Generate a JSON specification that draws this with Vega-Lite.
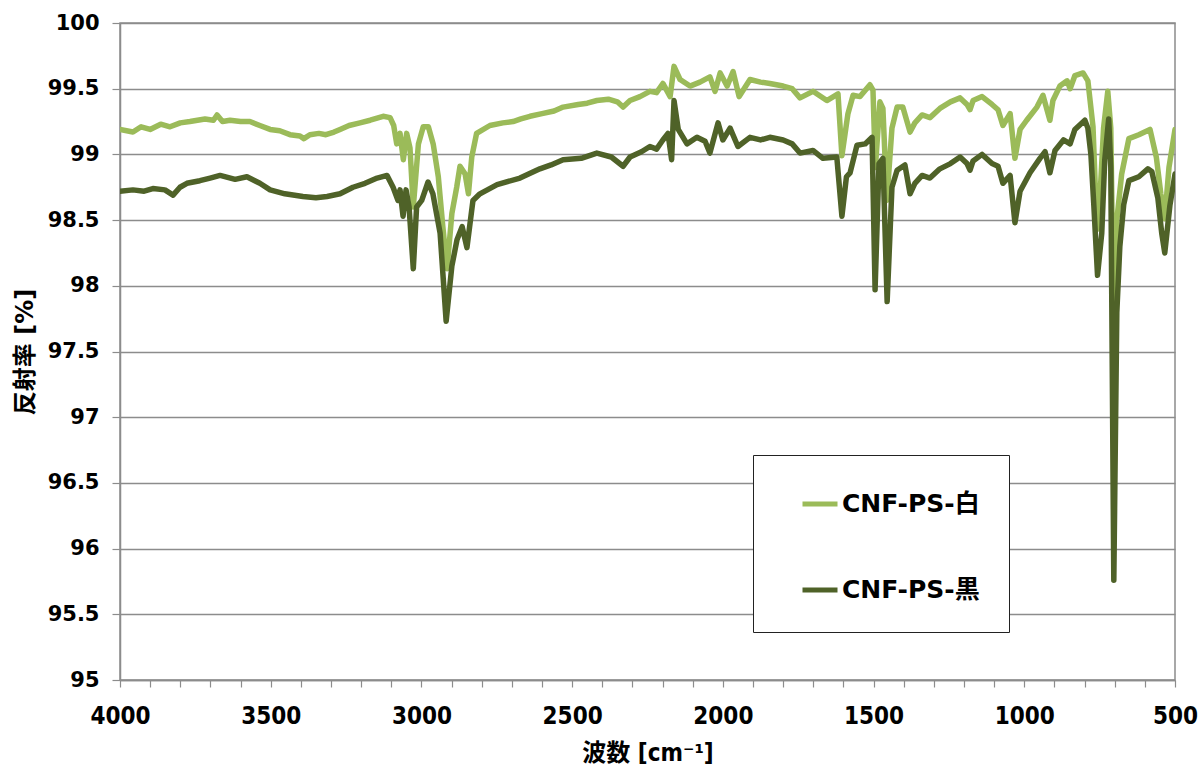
{
  "$schema": "https://vega.github.io/schema/vega-lite/v6.json",
  "width": 1055,
  "height": 657,
  "autosize": {"type": "none"},
  "padding": {"left": 120, "top": 23, "right": 25, "bottom": 92},
  "background": "white",
  "config": {
    "view": {"stroke": "#8c8c8c", "strokeWidth": 1.5},
    "font": "DejaVu Sans, Noto Sans CJK JP"
  },
  "data": {
    "values": [
      {"wn": 4000, "r": 99.19, "s": "CNF-PS-白"},
      {"wn": 3957, "r": 99.17, "s": "CNF-PS-白"},
      {"wn": 3930, "r": 99.21, "s": "CNF-PS-白"},
      {"wn": 3900, "r": 99.19, "s": "CNF-PS-白"},
      {"wn": 3865, "r": 99.23, "s": "CNF-PS-白"},
      {"wn": 3834, "r": 99.21, "s": "CNF-PS-白"},
      {"wn": 3800, "r": 99.24, "s": "CNF-PS-白"},
      {"wn": 3768, "r": 99.25, "s": "CNF-PS-白"},
      {"wn": 3718, "r": 99.27, "s": "CNF-PS-白"},
      {"wn": 3690, "r": 99.26, "s": "CNF-PS-白"},
      {"wn": 3678, "r": 99.30, "s": "CNF-PS-白"},
      {"wn": 3660, "r": 99.25, "s": "CNF-PS-白"},
      {"wn": 3635, "r": 99.26, "s": "CNF-PS-白"},
      {"wn": 3600, "r": 99.25, "s": "CNF-PS-白"},
      {"wn": 3569, "r": 99.25, "s": "CNF-PS-白"},
      {"wn": 3536, "r": 99.22, "s": "CNF-PS-白"},
      {"wn": 3502, "r": 99.19, "s": "CNF-PS-白"},
      {"wn": 3470, "r": 99.18, "s": "CNF-PS-白"},
      {"wn": 3436, "r": 99.15, "s": "CNF-PS-白"},
      {"wn": 3403, "r": 99.14, "s": "CNF-PS-白"},
      {"wn": 3390, "r": 99.12, "s": "CNF-PS-白"},
      {"wn": 3370, "r": 99.15, "s": "CNF-PS-白"},
      {"wn": 3340, "r": 99.16, "s": "CNF-PS-白"},
      {"wn": 3317, "r": 99.15, "s": "CNF-PS-白"},
      {"wn": 3290, "r": 99.17, "s": "CNF-PS-白"},
      {"wn": 3270, "r": 99.19, "s": "CNF-PS-白"},
      {"wn": 3240, "r": 99.22, "s": "CNF-PS-白"},
      {"wn": 3204, "r": 99.24, "s": "CNF-PS-白"},
      {"wn": 3170, "r": 99.26, "s": "CNF-PS-白"},
      {"wn": 3127, "r": 99.29, "s": "CNF-PS-白"},
      {"wn": 3104, "r": 99.28, "s": "CNF-PS-白"},
      {"wn": 3092, "r": 99.22, "s": "CNF-PS-白"},
      {"wn": 3082, "r": 99.08, "s": "CNF-PS-白"},
      {"wn": 3071, "r": 99.16, "s": "CNF-PS-白"},
      {"wn": 3060, "r": 98.96, "s": "CNF-PS-白"},
      {"wn": 3049, "r": 99.16, "s": "CNF-PS-白"},
      {"wn": 3038, "r": 99.05, "s": "CNF-PS-白"},
      {"wn": 3027, "r": 98.60, "s": "CNF-PS-白"},
      {"wn": 3010, "r": 99.08, "s": "CNF-PS-白"},
      {"wn": 2994, "r": 99.21, "s": "CNF-PS-白"},
      {"wn": 2977, "r": 99.21, "s": "CNF-PS-白"},
      {"wn": 2961, "r": 99.08, "s": "CNF-PS-白"},
      {"wn": 2944, "r": 98.83, "s": "CNF-PS-白"},
      {"wn": 2929, "r": 98.45, "s": "CNF-PS-白"},
      {"wn": 2915, "r": 98.13, "s": "CNF-PS-白"},
      {"wn": 2899, "r": 98.55, "s": "CNF-PS-白"},
      {"wn": 2883, "r": 98.75, "s": "CNF-PS-白"},
      {"wn": 2872, "r": 98.91, "s": "CNF-PS-白"},
      {"wn": 2855, "r": 98.85, "s": "CNF-PS-白"},
      {"wn": 2844, "r": 98.70, "s": "CNF-PS-白"},
      {"wn": 2833, "r": 98.98, "s": "CNF-PS-白"},
      {"wn": 2817, "r": 99.16, "s": "CNF-PS-白"},
      {"wn": 2773, "r": 99.22, "s": "CNF-PS-白"},
      {"wn": 2730, "r": 99.24, "s": "CNF-PS-白"},
      {"wn": 2696, "r": 99.25, "s": "CNF-PS-白"},
      {"wn": 2670, "r": 99.27, "s": "CNF-PS-白"},
      {"wn": 2640, "r": 99.29, "s": "CNF-PS-白"},
      {"wn": 2600, "r": 99.31, "s": "CNF-PS-白"},
      {"wn": 2560, "r": 99.33, "s": "CNF-PS-白"},
      {"wn": 2530, "r": 99.36, "s": "CNF-PS-白"},
      {"wn": 2480, "r": 99.38, "s": "CNF-PS-白"},
      {"wn": 2450, "r": 99.39, "s": "CNF-PS-白"},
      {"wn": 2418, "r": 99.41, "s": "CNF-PS-白"},
      {"wn": 2380, "r": 99.42, "s": "CNF-PS-白"},
      {"wn": 2350, "r": 99.40, "s": "CNF-PS-白"},
      {"wn": 2331, "r": 99.36, "s": "CNF-PS-白"},
      {"wn": 2308, "r": 99.41, "s": "CNF-PS-白"},
      {"wn": 2275, "r": 99.44, "s": "CNF-PS-白"},
      {"wn": 2242, "r": 99.48, "s": "CNF-PS-白"},
      {"wn": 2220, "r": 99.47, "s": "CNF-PS-白"},
      {"wn": 2199, "r": 99.54, "s": "CNF-PS-白"},
      {"wn": 2175, "r": 99.44, "s": "CNF-PS-白"},
      {"wn": 2162, "r": 99.67, "s": "CNF-PS-白"},
      {"wn": 2142, "r": 99.57, "s": "CNF-PS-白"},
      {"wn": 2109, "r": 99.52, "s": "CNF-PS-白"},
      {"wn": 2076, "r": 99.55, "s": "CNF-PS-白"},
      {"wn": 2043, "r": 99.59, "s": "CNF-PS-白"},
      {"wn": 2026, "r": 99.48, "s": "CNF-PS-白"},
      {"wn": 2009, "r": 99.62, "s": "CNF-PS-白"},
      {"wn": 1986, "r": 99.52, "s": "CNF-PS-白"},
      {"wn": 1966, "r": 99.63, "s": "CNF-PS-白"},
      {"wn": 1946, "r": 99.44, "s": "CNF-PS-白"},
      {"wn": 1910, "r": 99.57, "s": "CNF-PS-白"},
      {"wn": 1875, "r": 99.55, "s": "CNF-PS-白"},
      {"wn": 1844, "r": 99.54, "s": "CNF-PS-白"},
      {"wn": 1800, "r": 99.52, "s": "CNF-PS-白"},
      {"wn": 1770, "r": 99.50, "s": "CNF-PS-白"},
      {"wn": 1744, "r": 99.43, "s": "CNF-PS-白"},
      {"wn": 1701, "r": 99.48, "s": "CNF-PS-白"},
      {"wn": 1655, "r": 99.41, "s": "CNF-PS-白"},
      {"wn": 1618, "r": 99.46, "s": "CNF-PS-白"},
      {"wn": 1605, "r": 98.99, "s": "CNF-PS-白"},
      {"wn": 1585, "r": 99.31, "s": "CNF-PS-白"},
      {"wn": 1568, "r": 99.45, "s": "CNF-PS-白"},
      {"wn": 1545, "r": 99.44, "s": "CNF-PS-白"},
      {"wn": 1512, "r": 99.53, "s": "CNF-PS-白"},
      {"wn": 1502, "r": 99.49, "s": "CNF-PS-白"},
      {"wn": 1494, "r": 98.90, "s": "CNF-PS-白"},
      {"wn": 1479, "r": 99.40, "s": "CNF-PS-白"},
      {"wn": 1469, "r": 99.35, "s": "CNF-PS-白"},
      {"wn": 1456, "r": 98.65, "s": "CNF-PS-白"},
      {"wn": 1439, "r": 99.20, "s": "CNF-PS-白"},
      {"wn": 1422, "r": 99.36, "s": "CNF-PS-白"},
      {"wn": 1403, "r": 99.36, "s": "CNF-PS-白"},
      {"wn": 1379, "r": 99.17, "s": "CNF-PS-白"},
      {"wn": 1363, "r": 99.24, "s": "CNF-PS-白"},
      {"wn": 1339, "r": 99.30, "s": "CNF-PS-白"},
      {"wn": 1313, "r": 99.28, "s": "CNF-PS-白"},
      {"wn": 1280, "r": 99.35, "s": "CNF-PS-白"},
      {"wn": 1245, "r": 99.40, "s": "CNF-PS-白"},
      {"wn": 1213, "r": 99.43, "s": "CNF-PS-白"},
      {"wn": 1190, "r": 99.38, "s": "CNF-PS-白"},
      {"wn": 1180, "r": 99.34, "s": "CNF-PS-白"},
      {"wn": 1170, "r": 99.41, "s": "CNF-PS-白"},
      {"wn": 1140, "r": 99.44, "s": "CNF-PS-白"},
      {"wn": 1107, "r": 99.38, "s": "CNF-PS-白"},
      {"wn": 1087, "r": 99.34, "s": "CNF-PS-白"},
      {"wn": 1071, "r": 99.22, "s": "CNF-PS-白"},
      {"wn": 1047, "r": 99.31, "s": "CNF-PS-白"},
      {"wn": 1031, "r": 98.97, "s": "CNF-PS-白"},
      {"wn": 1014, "r": 99.19, "s": "CNF-PS-白"},
      {"wn": 992, "r": 99.26, "s": "CNF-PS-白"},
      {"wn": 958, "r": 99.36, "s": "CNF-PS-白"},
      {"wn": 938, "r": 99.45, "s": "CNF-PS-白"},
      {"wn": 915, "r": 99.26, "s": "CNF-PS-白"},
      {"wn": 905, "r": 99.41, "s": "CNF-PS-白"},
      {"wn": 882, "r": 99.52, "s": "CNF-PS-白"},
      {"wn": 858, "r": 99.56, "s": "CNF-PS-白"},
      {"wn": 848, "r": 99.50, "s": "CNF-PS-白"},
      {"wn": 832, "r": 99.60, "s": "CNF-PS-白"},
      {"wn": 805, "r": 99.62, "s": "CNF-PS-白"},
      {"wn": 789, "r": 99.56, "s": "CNF-PS-白"},
      {"wn": 772, "r": 99.21, "s": "CNF-PS-白"},
      {"wn": 762, "r": 98.60, "s": "CNF-PS-白"},
      {"wn": 757, "r": 98.43, "s": "CNF-PS-白"},
      {"wn": 746, "r": 98.80, "s": "CNF-PS-白"},
      {"wn": 737, "r": 99.20, "s": "CNF-PS-白"},
      {"wn": 723, "r": 99.48, "s": "CNF-PS-白"},
      {"wn": 713, "r": 99.20, "s": "CNF-PS-白"},
      {"wn": 703, "r": 97.60, "s": "CNF-PS-白"},
      {"wn": 693, "r": 98.50, "s": "CNF-PS-白"},
      {"wn": 677, "r": 98.85, "s": "CNF-PS-白"},
      {"wn": 653, "r": 99.12, "s": "CNF-PS-白"},
      {"wn": 620, "r": 99.15, "s": "CNF-PS-白"},
      {"wn": 583, "r": 99.19, "s": "CNF-PS-白"},
      {"wn": 562, "r": 98.98, "s": "CNF-PS-白"},
      {"wn": 547, "r": 98.70, "s": "CNF-PS-白"},
      {"wn": 534, "r": 98.51, "s": "CNF-PS-白"},
      {"wn": 520, "r": 98.90, "s": "CNF-PS-白"},
      {"wn": 500, "r": 99.19, "s": "CNF-PS-白"},

      {"wn": 4000, "r": 98.72, "s": "CNF-PS-黒"},
      {"wn": 3957, "r": 98.73, "s": "CNF-PS-黒"},
      {"wn": 3920, "r": 98.72, "s": "CNF-PS-黒"},
      {"wn": 3891, "r": 98.74, "s": "CNF-PS-黒"},
      {"wn": 3851, "r": 98.73, "s": "CNF-PS-黒"},
      {"wn": 3824, "r": 98.69, "s": "CNF-PS-黒"},
      {"wn": 3801, "r": 98.75, "s": "CNF-PS-黒"},
      {"wn": 3778, "r": 98.78, "s": "CNF-PS-黒"},
      {"wn": 3735, "r": 98.80, "s": "CNF-PS-黒"},
      {"wn": 3701, "r": 98.82, "s": "CNF-PS-黒"},
      {"wn": 3668, "r": 98.84, "s": "CNF-PS-黒"},
      {"wn": 3618, "r": 98.81, "s": "CNF-PS-黒"},
      {"wn": 3579, "r": 98.83, "s": "CNF-PS-黒"},
      {"wn": 3536, "r": 98.78, "s": "CNF-PS-黒"},
      {"wn": 3502, "r": 98.73, "s": "CNF-PS-黒"},
      {"wn": 3453, "r": 98.70, "s": "CNF-PS-黒"},
      {"wn": 3393, "r": 98.68, "s": "CNF-PS-黒"},
      {"wn": 3350, "r": 98.67, "s": "CNF-PS-黒"},
      {"wn": 3313, "r": 98.68, "s": "CNF-PS-黒"},
      {"wn": 3270, "r": 98.70, "s": "CNF-PS-黒"},
      {"wn": 3227, "r": 98.75, "s": "CNF-PS-黒"},
      {"wn": 3187, "r": 98.78, "s": "CNF-PS-黒"},
      {"wn": 3147, "r": 98.82, "s": "CNF-PS-黒"},
      {"wn": 3114, "r": 98.84, "s": "CNF-PS-黒"},
      {"wn": 3094, "r": 98.75, "s": "CNF-PS-黒"},
      {"wn": 3078, "r": 98.65, "s": "CNF-PS-黒"},
      {"wn": 3071, "r": 98.73, "s": "CNF-PS-黒"},
      {"wn": 3061, "r": 98.53, "s": "CNF-PS-黒"},
      {"wn": 3051, "r": 98.73, "s": "CNF-PS-黒"},
      {"wn": 3041, "r": 98.60, "s": "CNF-PS-黒"},
      {"wn": 3027, "r": 98.13, "s": "CNF-PS-黒"},
      {"wn": 3016, "r": 98.60, "s": "CNF-PS-黒"},
      {"wn": 2999, "r": 98.65, "s": "CNF-PS-黒"},
      {"wn": 2978, "r": 98.79, "s": "CNF-PS-黒"},
      {"wn": 2962, "r": 98.70, "s": "CNF-PS-黒"},
      {"wn": 2938, "r": 98.40, "s": "CNF-PS-黒"},
      {"wn": 2918, "r": 97.73, "s": "CNF-PS-黒"},
      {"wn": 2899, "r": 98.15, "s": "CNF-PS-黒"},
      {"wn": 2882, "r": 98.35, "s": "CNF-PS-黒"},
      {"wn": 2865, "r": 98.45, "s": "CNF-PS-黒"},
      {"wn": 2849, "r": 98.29, "s": "CNF-PS-黒"},
      {"wn": 2829, "r": 98.65, "s": "CNF-PS-黒"},
      {"wn": 2806, "r": 98.70, "s": "CNF-PS-黒"},
      {"wn": 2749, "r": 98.77, "s": "CNF-PS-黒"},
      {"wn": 2673, "r": 98.82, "s": "CNF-PS-黒"},
      {"wn": 2607, "r": 98.89, "s": "CNF-PS-黒"},
      {"wn": 2570, "r": 98.92, "s": "CNF-PS-黒"},
      {"wn": 2530, "r": 98.96, "s": "CNF-PS-黒"},
      {"wn": 2470, "r": 98.97, "s": "CNF-PS-黒"},
      {"wn": 2418, "r": 99.01, "s": "CNF-PS-黒"},
      {"wn": 2370, "r": 98.98, "s": "CNF-PS-黒"},
      {"wn": 2331, "r": 98.91, "s": "CNF-PS-黒"},
      {"wn": 2308, "r": 98.98, "s": "CNF-PS-黒"},
      {"wn": 2270, "r": 99.02, "s": "CNF-PS-黒"},
      {"wn": 2242, "r": 99.06, "s": "CNF-PS-黒"},
      {"wn": 2220, "r": 99.04, "s": "CNF-PS-黒"},
      {"wn": 2199, "r": 99.11, "s": "CNF-PS-黒"},
      {"wn": 2182, "r": 99.16, "s": "CNF-PS-黒"},
      {"wn": 2170, "r": 98.96, "s": "CNF-PS-黒"},
      {"wn": 2162, "r": 99.41, "s": "CNF-PS-黒"},
      {"wn": 2148, "r": 99.19, "s": "CNF-PS-黒"},
      {"wn": 2119, "r": 99.08, "s": "CNF-PS-黒"},
      {"wn": 2086, "r": 99.13, "s": "CNF-PS-黒"},
      {"wn": 2059, "r": 99.10, "s": "CNF-PS-黒"},
      {"wn": 2043, "r": 99.01, "s": "CNF-PS-黒"},
      {"wn": 2016, "r": 99.24, "s": "CNF-PS-黒"},
      {"wn": 2000, "r": 99.11, "s": "CNF-PS-黒"},
      {"wn": 1976, "r": 99.20, "s": "CNF-PS-黒"},
      {"wn": 1950, "r": 99.06, "s": "CNF-PS-黒"},
      {"wn": 1910, "r": 99.13, "s": "CNF-PS-黒"},
      {"wn": 1875, "r": 99.11, "s": "CNF-PS-黒"},
      {"wn": 1844, "r": 99.13, "s": "CNF-PS-黒"},
      {"wn": 1800, "r": 99.11, "s": "CNF-PS-黒"},
      {"wn": 1770, "r": 99.08, "s": "CNF-PS-黒"},
      {"wn": 1744, "r": 99.01, "s": "CNF-PS-黒"},
      {"wn": 1701, "r": 99.03, "s": "CNF-PS-黒"},
      {"wn": 1668, "r": 98.97, "s": "CNF-PS-黒"},
      {"wn": 1622, "r": 98.98, "s": "CNF-PS-黒"},
      {"wn": 1605, "r": 98.53, "s": "CNF-PS-黒"},
      {"wn": 1590, "r": 98.83, "s": "CNF-PS-黒"},
      {"wn": 1578, "r": 98.86, "s": "CNF-PS-黒"},
      {"wn": 1555, "r": 99.07, "s": "CNF-PS-黒"},
      {"wn": 1528, "r": 99.08, "s": "CNF-PS-黒"},
      {"wn": 1505, "r": 99.13, "s": "CNF-PS-黒"},
      {"wn": 1495, "r": 97.97, "s": "CNF-PS-黒"},
      {"wn": 1482, "r": 98.93, "s": "CNF-PS-黒"},
      {"wn": 1469, "r": 98.97, "s": "CNF-PS-黒"},
      {"wn": 1455, "r": 97.88, "s": "CNF-PS-黒"},
      {"wn": 1439, "r": 98.75, "s": "CNF-PS-黒"},
      {"wn": 1422, "r": 98.88, "s": "CNF-PS-黒"},
      {"wn": 1396, "r": 98.92, "s": "CNF-PS-黒"},
      {"wn": 1379, "r": 98.70, "s": "CNF-PS-黒"},
      {"wn": 1363, "r": 98.78, "s": "CNF-PS-黒"},
      {"wn": 1339, "r": 98.84, "s": "CNF-PS-黒"},
      {"wn": 1313, "r": 98.82, "s": "CNF-PS-黒"},
      {"wn": 1280, "r": 98.89, "s": "CNF-PS-黒"},
      {"wn": 1245, "r": 98.93, "s": "CNF-PS-黒"},
      {"wn": 1213, "r": 98.98, "s": "CNF-PS-黒"},
      {"wn": 1190, "r": 98.93, "s": "CNF-PS-黒"},
      {"wn": 1180, "r": 98.88, "s": "CNF-PS-黒"},
      {"wn": 1170, "r": 98.95, "s": "CNF-PS-黒"},
      {"wn": 1140, "r": 99.00, "s": "CNF-PS-黒"},
      {"wn": 1107, "r": 98.93, "s": "CNF-PS-黒"},
      {"wn": 1087, "r": 98.91, "s": "CNF-PS-黒"},
      {"wn": 1071, "r": 98.78, "s": "CNF-PS-黒"},
      {"wn": 1047, "r": 98.84, "s": "CNF-PS-黒"},
      {"wn": 1031, "r": 98.48, "s": "CNF-PS-黒"},
      {"wn": 1014, "r": 98.72, "s": "CNF-PS-黒"},
      {"wn": 981, "r": 98.86, "s": "CNF-PS-黒"},
      {"wn": 948, "r": 98.97, "s": "CNF-PS-黒"},
      {"wn": 931, "r": 99.02, "s": "CNF-PS-黒"},
      {"wn": 915, "r": 98.86, "s": "CNF-PS-黒"},
      {"wn": 898, "r": 99.03, "s": "CNF-PS-黒"},
      {"wn": 870, "r": 99.11, "s": "CNF-PS-黒"},
      {"wn": 848, "r": 99.08, "s": "CNF-PS-黒"},
      {"wn": 832, "r": 99.19, "s": "CNF-PS-黒"},
      {"wn": 799, "r": 99.26, "s": "CNF-PS-黒"},
      {"wn": 789, "r": 99.20, "s": "CNF-PS-黒"},
      {"wn": 779, "r": 99.00, "s": "CNF-PS-黒"},
      {"wn": 769, "r": 98.60, "s": "CNF-PS-黒"},
      {"wn": 757, "r": 98.08, "s": "CNF-PS-黒"},
      {"wn": 743, "r": 98.40, "s": "CNF-PS-黒"},
      {"wn": 733, "r": 98.96, "s": "CNF-PS-黒"},
      {"wn": 720, "r": 99.27, "s": "CNF-PS-黒"},
      {"wn": 713, "r": 98.90, "s": "CNF-PS-黒"},
      {"wn": 703, "r": 95.76, "s": "CNF-PS-黒"},
      {"wn": 693, "r": 97.80, "s": "CNF-PS-黒"},
      {"wn": 683, "r": 98.30, "s": "CNF-PS-黒"},
      {"wn": 670, "r": 98.62, "s": "CNF-PS-黒"},
      {"wn": 653, "r": 98.80, "s": "CNF-PS-黒"},
      {"wn": 620, "r": 98.83, "s": "CNF-PS-黒"},
      {"wn": 590, "r": 98.89, "s": "CNF-PS-黒"},
      {"wn": 577, "r": 98.87, "s": "CNF-PS-黒"},
      {"wn": 557, "r": 98.67, "s": "CNF-PS-黒"},
      {"wn": 544, "r": 98.40, "s": "CNF-PS-黒"},
      {"wn": 534, "r": 98.25, "s": "CNF-PS-黒"},
      {"wn": 517, "r": 98.61, "s": "CNF-PS-黒"},
      {"wn": 500, "r": 98.85, "s": "CNF-PS-黒"}
    ]
  },
  "mark": {"type": "line", "strokeWidth": 5.5, "strokeJoin": "round", "strokeCap": "round", "clip": true},
  "encoding": {
    "x": {
      "field": "wn",
      "type": "quantitative",
      "scale": {"domain": [4000, 500], "nice": false, "zero": false},
      "axis": {
        "title": "波数 [cm⁻¹]",
        "values": [4000, 3900, 3800, 3700, 3600, 3500, 3400, 3300, 3200, 3100, 3000, 2900, 2800, 2700, 2600, 2500, 2400, 2300, 2200, 2100, 2000, 1900, 1800, 1700, 1600, 1500, 1400, 1300, 1200, 1100, 1000, 900, 800, 700, 600, 500],
        "labelExpr": "datum.value % 500 === 0 ? '' + datum.value : ''",
        "grid": false,
        "domainColor": "#8c8c8c",
        "domainWidth": 1.5,
        "tickColor": "#8c8c8c",
        "tickWidth": 1.2,
        "tickSize": 7,
        "labelFont": "DejaVu Sans Condensed, DejaVu Sans",
        "labelFontSize": 24,
        "labelFontWeight": "bold",
        "labelColor": "black",
        "labelPadding": 17,
        "labelOverlap": false,
        "labelFlush": false,
        "titleFont": "DejaVu Sans Condensed, Noto Sans CJK JP",
        "titleFontSize": 24,
        "titleFontWeight": "bold",
        "titleColor": "black",
        "titlePadding": 13
      }
    },
    "y": {
      "field": "r",
      "type": "quantitative",
      "scale": {"domain": [95, 100], "nice": false, "zero": false},
      "axis": {
        "title": "反射率 [%]",
        "values": [95, 95.5, 96, 96.5, 97, 97.5, 98, 98.5, 99, 99.5, 100],
        "labelExpr": "'' + datum.value",
        "grid": true,
        "gridColor": "#8c8c8c",
        "gridWidth": 1.5,
        "domainColor": "#8c8c8c",
        "domainWidth": 1.5,
        "tickColor": "#8c8c8c",
        "tickWidth": 1.2,
        "tickSize": 8,
        "labelFont": "DejaVu Sans",
        "labelFontSize": 21,
        "labelFontWeight": "bold",
        "labelColor": "black",
        "labelPadding": 13,
        "labelOverlap": false,
        "labelFlush": false,
        "titleFont": "DejaVu Sans, Noto Sans CJK JP",
        "titleFontSize": 24,
        "titleFontWeight": "bold",
        "titleColor": "black",
        "titlePadding": 10
      }
    },
    "color": {
      "field": "s",
      "type": "nominal",
      "scale": {"domain": ["CNF-PS-白", "CNF-PS-黒"], "range": ["#9BBB59", "#4F6228"]},
      "legend": {
        "title": null,
        "orient": "none",
        "legendX": 633,
        "legendY": 432,
        "padding": 29,
        "fillColor": "white",
        "strokeColor": "#222222",
        "symbolType": "stroke",
        "symbolSize": 1225,
        "symbolStrokeWidth": 5,
        "symbolOffset": 18,
        "labelOffset": 2,
        "rowPadding": 53,
        "labelExpr": "datum.label + '\u00a0\u00a0\u00a0'",
        "labelFont": "DejaVu Sans, Noto Sans CJK JP",
        "labelFontSize": 25,
        "labelFontWeight": "bold",
        "labelColor": "black",
        "labelLimit": 400
      }
    }
  }
}
